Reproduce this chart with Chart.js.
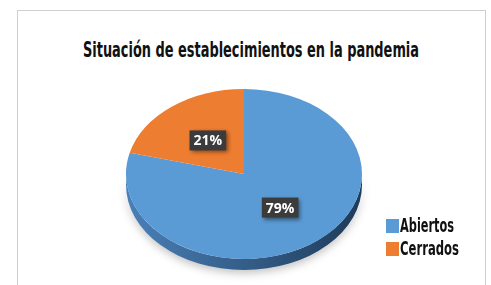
<!DOCTYPE html>
<html>
<head>
<meta charset="utf-8">
<script src="https://cdn.jsdelivr.net/npm/chart.js"></script>
<style>
  body { margin: 0; background: #fff; }
  .wrap { position: relative; width: 491px; height: 285px; overflow: hidden; }
  .frame { position: absolute; left: 17px; top: 10px; width: 467px; height: 300px; border: 1px solid #d0d0d0; }
  .cond { font-family: "Liberation Sans Narrow", "DejaVu Sans Condensed", "DejaVu Sans", sans-serif;
    font-weight: bold; color: #111; white-space: nowrap; display: inline-block; transform-origin: 0 0; }
  .title { position: absolute; left: 83px; top: 37px; font-size: 22px; line-height: 26px; }
  .legend { position: absolute; left: 386px; top: 218px; }
  .legend .row { position: relative; height: 23px; }
  .legend span.box { position: absolute; left: 0; top: 1px; width: 13px; height: 14px; }
  .legend .lab { position: absolute; left: 14px; top: -4px; font-size: 19px; line-height: 22px; }
  canvas { position: absolute; left: 0; top: 0; }
</style>
</head>
<body>
<div class="wrap">
  <div class="frame"></div>
  <span class="cond title" id="title" data-w="336">Situación de establecimientos en la pandemia</span>
  <canvas id="pie" width="491" height="285"></canvas>
  <div class="legend" id="legend"></div>
</div>
<script>
var categories = ["Abiertos", "Cerrados"];
var values = [79, 21];
var colors = ["#5B9BD5", "#ED7D31"];
var sideColors = [["#4a80b8", "#1e3b5a"], ["#c9671f", "#7a3a0c"]];
var legendWidths = [54, 59];

var tilt = 0.72;     // vertical squash of the pie
var depth = 11;      // thickness of the pie side in px
var centerY = 174;   // where the squashed centre lands

var legend = document.getElementById("legend");
categories.forEach(function (c, i) {
  legend.innerHTML += '<div class="row"><span class="box" style="background:' + colors[i] +
    '"></span><span class="cond lab" data-w="' + legendWidths[i] + '">' + c + '</span></div>';
});

// squeeze the text horizontally to look like the condensed face
document.querySelectorAll(".cond").forEach(function (el) {
  var w = el.getBoundingClientRect().width;
  el.style.transform = "scaleX(" + (el.dataset.w / w) + ")";
});

function mapY(y, arc) { return centerY + (y - arc.y) * tilt; }

var pie3d = {
  id: "pie3d",
  beforeDatasetsDraw: function (chart) {
    var ctx = chart.ctx;
    var arcs = chart.getDatasetMeta(0).data;
    // side walls, only the front half (0..PI) shows
    arcs.forEach(function (arc, i) {
      var s = Math.max(arc.startAngle, 0), e = Math.min(arc.endAngle, Math.PI);
      var s2 = Math.max(arc.startAngle - 2 * Math.PI, 0), e2 = Math.min(arc.endAngle - 2 * Math.PI, Math.PI);
      [[s, e], [s2, e2]].forEach(function (r) {
        if (r[1] <= r[0]) return;
        var rx = arc.outerRadius, ry = arc.outerRadius * tilt;
        var g = ctx.createLinearGradient(arc.x - rx, 0, arc.x + rx, 0);
        g.addColorStop(0, sideColors[i][0]);
        g.addColorStop(1, sideColors[i][1]);
        ctx.save();
        ctx.beginPath();
        ctx.ellipse(arc.x, centerY, rx, ry, 0, r[0], r[1], false);
        ctx.ellipse(arc.x, centerY + depth, rx, ry, 0, r[1], r[0], true);
        ctx.closePath();
        ctx.shadowColor = "rgba(0,0,0,0.25)";
        ctx.shadowBlur = 8;
        ctx.shadowOffsetY = 3;
        ctx.fillStyle = g;
        ctx.fill();
        ctx.restore();
      });
    });
    var a = arcs[0];
    ctx.save();
    ctx.translate(a.x, centerY);
    ctx.scale(1, tilt);
    ctx.translate(-a.x, -a.y);
  },
  afterDatasetsDraw: function (chart) {
    var ctx = chart.ctx;
    ctx.restore();
    var data = chart.data.datasets[0].data;
    var total = data.reduce(function (p, v) { return p + v; }, 0);
    chart.getDatasetMeta(0).data.forEach(function (arc, i) {
      var mid = (arc.startAngle + arc.endAngle) / 2;
      var r = arc.outerRadius * 0.5;
      var x = arc.x + Math.cos(mid) * r;
      var y = mapY(arc.y + Math.sin(mid) * r, arc);
      var txt = Math.round(data[i] / total * 100) + "%";
      ctx.save();
      ctx.font = "bold 14px 'Open Sans', sans-serif";
      var w = ctx.measureText(txt).width + 8, h = 20;
      ctx.shadowColor = "rgba(0,0,0,0.45)";
      ctx.shadowBlur = 4;
      ctx.shadowOffsetX = 2;
      ctx.shadowOffsetY = 2;
      ctx.fillStyle = "#3b3b3b";
      ctx.fillRect(x - w / 2, y - h / 2, w, h);
      ctx.shadowColor = "transparent";
      ctx.fillStyle = "#fff";
      ctx.textAlign = "center";
      ctx.textBaseline = "middle";
      ctx.fillText(txt, x, y + 1);
      ctx.restore();
    });
  }
};

new Chart(document.getElementById("pie"), {
  type: "pie",
  data: {
    labels: categories,
    datasets: [{ data: values, backgroundColor: colors, borderWidth: 0 }]
  },
  options: {
    responsive: false,
    animation: false,
    layout: { padding: { left: 126, right: 129, top: 24, bottom: 25 } },
    plugins: { legend: { display: false }, tooltip: { enabled: false } }
  },
  plugins: [pie3d]
});
</script>
</body>
</html>
